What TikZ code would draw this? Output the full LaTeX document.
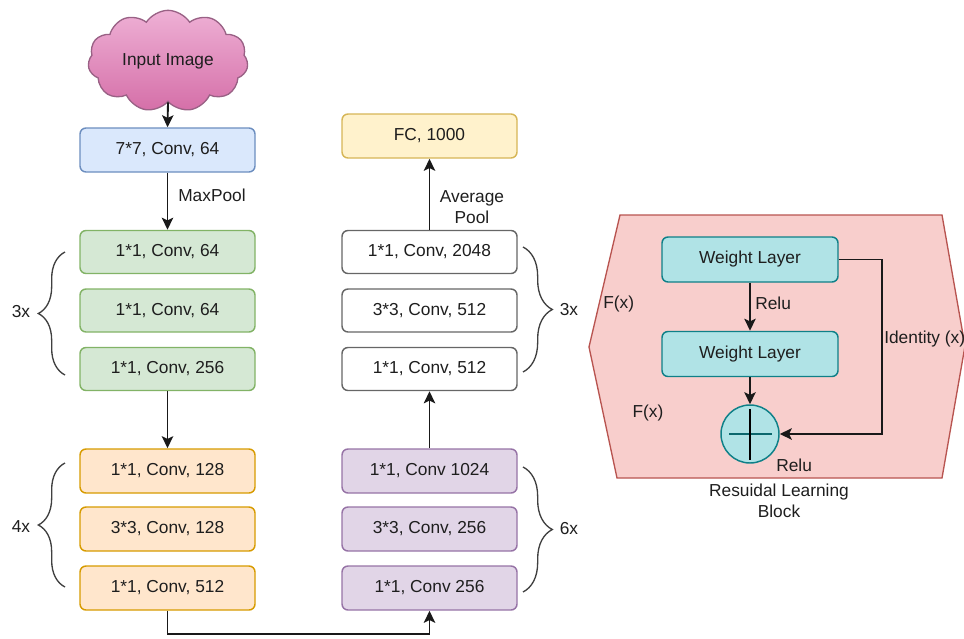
\documentclass[tikz,border=0pt]{standalone}
\usepackage{fontspec}
\setmainfont{Liberation Sans}
\usetikzlibrary{shapes.symbols,shapes.geometric,decorations.pathreplacing,arrows.meta,calc}
\definecolor{txt}{HTML}{1E1E1E}
\definecolor{bluef}{HTML}{DAE8FC}\definecolor{blued}{HTML}{6C8EBF}
\definecolor{greenf}{HTML}{D5E8D4}\definecolor{greend}{HTML}{82B366}
\definecolor{orangef}{HTML}{FFE6CC}\definecolor{oranged}{HTML}{D79B00}
\definecolor{purplef}{HTML}{E1D5E7}\definecolor{purpled}{HTML}{9673A6}
\definecolor{yellowf}{HTML}{FFF2CC}\definecolor{yellowd}{HTML}{D6B656}
\definecolor{grayd}{HTML}{666666}
\definecolor{redf}{HTML}{F8CECC}\definecolor{redd}{HTML}{B85450}
\definecolor{tealf}{HTML}{B0E3E6}\definecolor{teald}{HTML}{0E8088}
\definecolor{pinktop}{HTML}{EEB0D5}\definecolor{pinkbot}{HTML}{D56FA8}
\definecolor{pinkd}{HTML}{996185}
\begin{document}
\begin{tikzpicture}[x=0.75pt,y=-0.75pt,
  every node/.style={text=txt,font=\fontsize{13pt}{15.5pt}\selectfont},
  layerbox/.style={draw,rounded corners=4.5pt,line width=1.1pt,minimum width=131.25pt,minimum height=33pt,inner sep=0pt},
  bluebox/.style={layerbox,fill=bluef,draw=blued},
  greenbox/.style={layerbox,fill=greenf,draw=greend,minimum height=32.25pt},
  orangebox/.style={layerbox,fill=orangef,draw=oranged},
  purplebox/.style={layerbox,fill=purplef,draw=purpled},
  yellowbox/.style={layerbox,fill=yellowf,draw=yellowd},
  whitebox/.style={layerbox,fill=white,draw=grayd,minimum height=32.25pt},
  weightbox/.style={draw=teald,fill=tealf,rounded corners=4.5pt,line width=1.1pt,minimum width=132pt,minimum height=33.75pt,inner sep=0pt},
  conn/.style={line width=1.4pt,draw=black!90,-{Stealth[length=9pt,width=8.5pt,inset=2pt]}},
  bracel/.style={draw=black!75,line width=1pt,decorate,decoration={brace,amplitude=20pt}},
  bracer/.style={draw=black!75,line width=1pt,decorate,decoration={brace,amplitude=22pt}},
  lbl/.style={inner sep=0pt}
]
\useasboundingbox (0,0) rectangle (964,639);

% left column
\node[cloud,cloud puffs=11,cloud puff arc=115,aspect=1.7,draw=pinkd,line width=1pt,
      top color=pinktop,bottom color=pinkbot,minimum width=120pt,minimum height=76pt,inner sep=0pt] (inp) at (168,61) {Input Image};
\node[bluebox] (c7) at (167.5,150) {7*7, Conv, 64};
\node[greenbox] (g1) at (167.5,252) {1*1, Conv, 64};
\node[greenbox] (g2) at (167.5,310.5) {1*1, Conv, 64};
\node[greenbox] (g3) at (167.5,369) {1*1, Conv, 256};
\node[orangebox] (o1) at (167.5,471) {1*1, Conv, 128};
\node[orangebox] (o2) at (167.5,529) {3*3, Conv, 128};
\node[orangebox] (o3) at (167.5,588) {1*1, Conv, 512};

% right column
\node[yellowbox] (fc) at (429.5,136) {FC, 1000};
\node[whitebox] (w1) at (429.5,252) {1*1, Conv, 2048};
\node[whitebox] (w2) at (429.5,310.5) {3*3, Conv, 512};
\node[whitebox] (w3) at (429.5,369) {1*1, Conv, 512};
\node[purplebox] (p1) at (429.5,471) {1*1, Conv 1024};
\node[purplebox] (p2) at (429.5,529) {3*3, Conv, 256};
\node[purplebox] (p3) at (429.5,588) {1*1, Conv 256};

% connectors
\draw[conn] (inp.south) -- (c7.north);
\draw[conn] (c7.south) -- (g1.north);
\node[lbl,anchor=west] (mp) at (178,195) {MaxPool};
\draw[conn] (g3.south) -- (o1.north);
\coordinate (bl) at (167.5,634);
\draw[conn] (o3.south) -- (bl) -| (p3.south);
\draw[conn] (p1.north) -- (w3.south);
\draw[conn] (w1.north) -- (fc.south);
\node[lbl,align=center] (ap) at (472,207) {Average\\Pool};

% braces
\draw[bracel] (65,587) -- (65,463);
\node[lbl] (t3l) at (21,312) {3x};
\draw[bracel] (65,375) -- (65,252);
\node[lbl] (t4l) at (21,527) {4x};
\draw[bracer] (523,247) -- (523,372);
\node[lbl] (t3r) at (569,310) {3x};
\draw[bracer] (523,467) -- (523,592);
\node[lbl] (t6r) at (569,529) {6x};

% residual block
\draw[draw=redd,fill=redf,line width=1pt] (620,215) -- (942,215) -- (965,346) -- (942,478) -- (617,478) -- (589,347) -- cycle;
\node[weightbox] (wl1) at (750,259.5) {Weight Layer};
\node[weightbox] (wl2) at (750,354) {Weight Layer};
\node[circle,draw=teald,fill=tealf,line width=1.1pt,minimum size=43.5pt,inner sep=0pt] (sum) at (750,434) {};
\draw[teald!80!black,line width=1.4pt] ($(sum.center)+(-21,0)$) -- ($(sum.center)+(22,0)$);
\draw[black,line width=1.7pt] ($(sum.center)+(0,-25)$) -- ($(sum.center)+(0,26)$);
\draw[conn] (wl1.south) -- (wl2.north);
\draw[conn] (wl2.south) -- (sum.north);
\coordinate (idc) at (882,259.5);
\draw[conn] (wl1.east) -- (idc) |- (sum.east);
\node[lbl,anchor=west] (relu1) at (755,303) {Relu};
\node[lbl,anchor=west] (fx1) at (603,304) {F(x)};
\node[lbl,anchor=west] (idl) at (884,339) {Identity (x)};
\node[lbl] (fx2) at (648,413) {F(x)};
\node[lbl,anchor=west] (relu2) at (776,465) {Relu};
\node[lbl,align=center] (rlb) at (779,501) {Resuidal Learning\\Block};
\end{tikzpicture}
\end{document}
